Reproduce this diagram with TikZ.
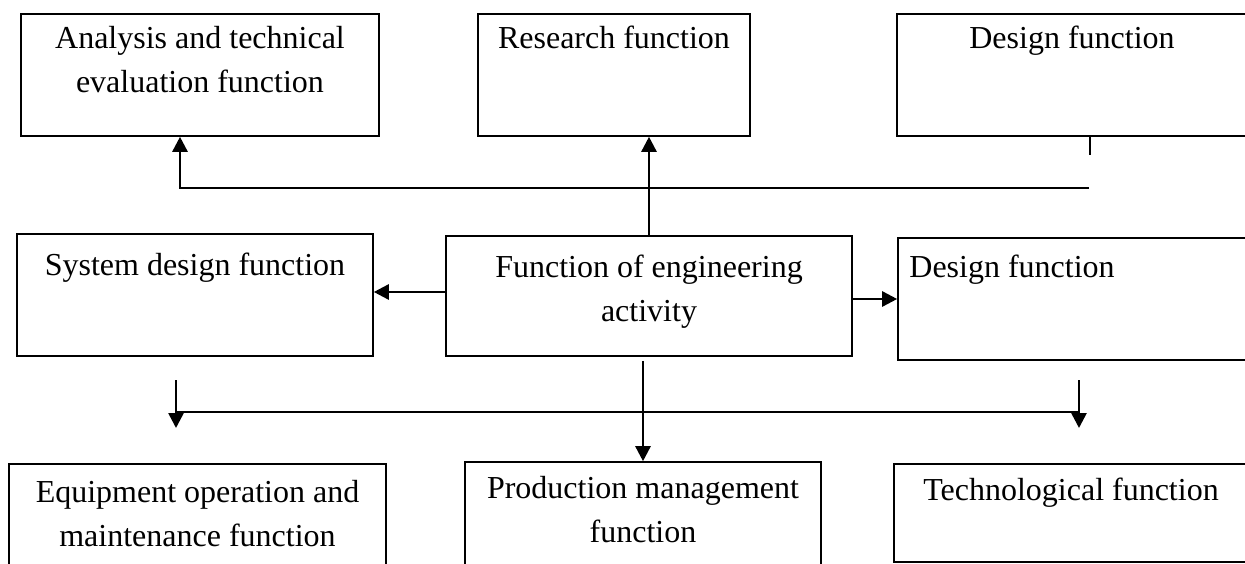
\documentclass[tikz,border=0pt]{standalone}
\usepackage{fontspec}
\setmainfont{Liberation Serif}
\usetikzlibrary{positioning,arrows.meta}

\begin{document}
\begin{tikzpicture}[
    x=1pt, y=-1pt,
    font=\fontsize{32}{44}\selectfont,
    >={Triangle[length=15pt,width=15pt]}
  ]

  \tikzset{
    fbox/.style={draw, line width=1.6pt, inner sep=0pt},
    ftext/.style={inner sep=0pt, align=center},
    link/.style={line width=2.6pt}
  }

  \useasboundingbox[fill=white] (0,0) rectangle (1245,564);

  % Boxes, top row
  \node (ana)  [fbox, minimum width=358pt, minimum height=122pt] at (200,75) {};
  \node (res)  [fbox, minimum width=272pt, minimum height=122pt] at (614,75) {};
  \node (des1) [fbox, minimum width=366pt, minimum height=122pt] at (1080,75) {};

  % Boxes, middle row
  \node (sys)  [fbox, minimum width=356pt, minimum height=122pt] at (195,295) {};
  \node (eng)  [fbox, minimum width=406pt, minimum height=120pt] at (649,296) {};
  \node (des2) [fbox, minimum width=366pt, minimum height=122pt] at (1081,299) {};

  % Boxes, bottom row
  \node (equ)  [fbox, minimum width=377pt, minimum height=122pt] at (197.5,525) {};
  \node (prod) [fbox, minimum width=356pt, minimum height=122pt] at (643,523) {};
  \node (tech) [fbox, minimum width=370pt, minimum height=98pt] at (1079,513) {};

  % Texts
  \node (ana-t)  [ftext, below=13pt of ana.north] {Analysis and technical\\evaluation function};
  \node (res-t)  [ftext, below=13pt of res.north] {Research function};
  \node (des1-t) [ftext, below=13pt of des1.north, xshift=-8pt] {Design function};
  \node (sys-t)  [ftext, below=20pt of sys.north] {System design function};
  \node (eng-t)  [ftext, below=20pt of eng.north] {Function of engineering\\activity};
  \node (des2-t) [ftext, below right=18pt and 12pt of des2.north west] {Design function};
  \node (equ-t)  [ftext, below=17pt of equ.north] {Equipment operation and\\maintenance function};
  \node (prod-t) [ftext, below=15pt of prod.north] {Production management\\function};
  \node (tech-t) [ftext, below=15pt of tech.north, xshift=-8pt] {Technological function};

  % Free ends of the connectors
  \coordinate (upL)   at (180,188);
  \coordinate (upR)   at (1089,188);
  \coordinate (tick)  at (1090,155);
  \coordinate (lowL)  at (176,412);
  \coordinate (lowR)  at (1079,412);
  \coordinate (arrL)  at (176,380);
  \coordinate (arrLe) at (176,428);
  \coordinate (arrR)  at (1079,380);
  \coordinate (arrRe) at (1079,428);

  % Upper connectors
  \draw[link, ->] (upR) -- (upL) -- (upL |- ana.south);
  \draw[link] (tick |- des1.south) -- (tick);
  \draw[link, ->] (eng.north) -- (eng.north |- res.south);

  % Side connectors
  \draw[link, ->] ([yshift=4pt]eng.west) -- ([yshift=4pt]eng.west -| sys.east);
  \draw[link, ->] (eng.east |- des2.west) -- (des2.west);

  % Lower connectors
  \draw[link] (lowL) -- (lowR);
  \draw[link, ->] ([yshift=-4pt]prod.north |- eng.south) -- (prod.north);
  \draw[link, ->] (arrL) -- (arrLe);
  \draw[link, ->] (arrR) -- (arrRe);

\end{tikzpicture}
\end{document}
